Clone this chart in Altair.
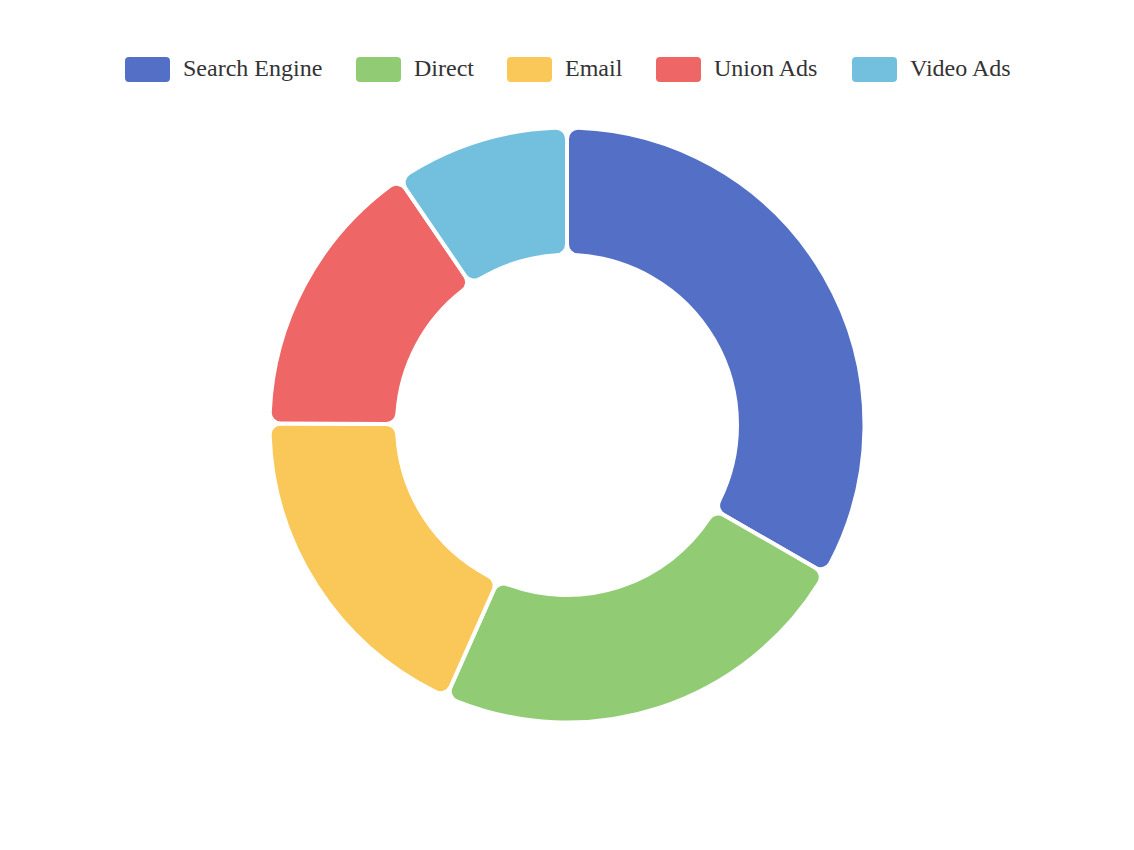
import altair as alt
import pandas as pd

categories = ["Search Engine", "Direct", "Email", "Union Ads", "Video Ads"]
values = [1048, 735, 580, 484, 300]
colors = ["#5470c6", "#91cc75", "#fac858", "#ee6666", "#73c0de"]

df = pd.DataFrame({"name": categories, "value": values, "idx": list(range(len(categories)))})

rr = ("M-0.822,-0.556 L0.822,-0.556 Q1,-0.556 1,-0.378 L1,0.378 Q1,0.556 0.822,0.556 "
      "L-0.822,0.556 Q-1,0.556 -1,0.378 L-1,-0.378 Q-1,-0.556 -0.822,-0.556 Z")

chart = alt.Chart(df).mark_arc(
    innerRadius=170, outerRadius=297.5, cornerRadius=11,
    stroke="#ffffff", strokeWidth=4
).encode(
    theta=alt.Theta("value:Q", stack=True),
    order=alt.Order("idx:Q"),
    color=alt.Color("name:N", sort=categories,
                    scale=alt.Scale(domain=categories, range=colors),
                    legend=alt.Legend(
                        title=None, orient="none", direction="horizontal",
                        legendX=117, legendY=38.5,
                        symbolType=rr, symbolSize=2025, symbolStrokeWidth=0,
                        labelFont="Liberation Serif", labelFontSize=24, labelColor="#333333",
                        labelOffset=13, columnPadding=33,
                    )),
    tooltip=["name:N", "value:Q"],
).properties(
    width=1118, height=834,
    autosize=alt.AutoSizeParams(type="none"),
    padding=0,
).configure_view(stroke=None)

chart.save("out.html", embed_options={"renderer": "svg", "actions": False})
